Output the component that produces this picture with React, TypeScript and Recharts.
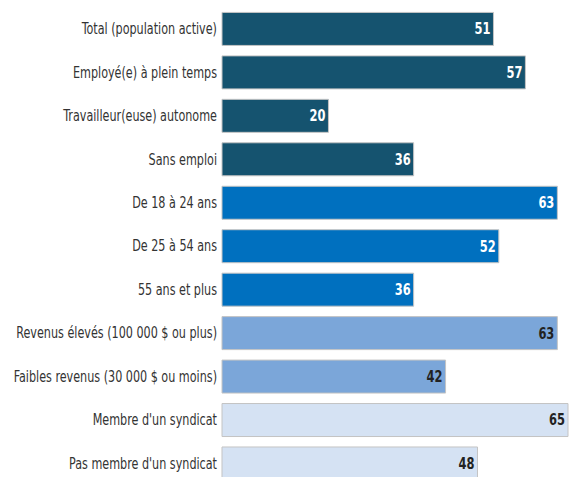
import React from "react";
import { BarChart, Bar, XAxis, YAxis, Cell, LabelList } from "recharts";

const categories = [
  "Total (population active)",
  "Employé(e) à plein temps",
  "Travailleur(euse) autonome",
  "Sans emploi",
  "De 18 à 24 ans",
  "De 25 à 54 ans",
  "55 ans et plus",
  "Revenus élevés (100 000 $ ou plus)",
  "Faibles revenus (30 000 $ ou moins)",
  "Membre d'un syndicat",
  "Pas membre d'un syndicat",
];
const values = [51, 57, 20, 36, 63, 52, 36, 63, 42, 65, 48];
const groups = [0, 0, 0, 0, 1, 1, 1, 2, 2, 3, 3];

const groupColors = ["#15536f", "#0070bf", "#7ba6d9", "#d5e2f3"];
const labelColors = ["#ffffff", "#ffffff", "#222222", "#222222"];

const data = categories.map((name, i) => ({ name, value: values[i], group: groups[i] }));

const FONT = "'DejaVu Sans Condensed', 'DejaVu Sans', sans-serif";

const renderLabel = (props: any) => {
  const { x, y, width, height, value, index } = props;
  const g = groups[index];
  return (
    <g transform={`translate(${x + width - 3},${y + height / 2}) scale(0.85,1)`}>
      <text
        x={0}
        y={0}
        textAnchor="end"
        dominantBaseline="central"
        fill={labelColors[g]}
        fontSize={15}
        fontWeight="bold"
        fontFamily={FONT}
      >
        {value}
      </text>
    </g>
  );
};

const CategoryTick = (props: any) => {
  const { x, y, payload } = props;
  return (
    <g transform={`translate(${x},${y}) scale(0.83,1)`}>
      <text
        x={0}
        y={0}
        textAnchor="end"
        dominantBaseline="central"
        fill="#333333"
        fontSize={15}
        fontFamily={FONT}
      >
        {payload.value}
      </text>
    </g>
  );
};

export default function App() {
  return (
    <div style={{ position: "absolute", left: 0, top: 0, width: 570, height: 477, overflow: "hidden", background: "#fff" }}>
      <BarChart
        width={570}
        height={485}
        data={data}
        layout="vertical"
        margin={{ top: 7, right: 2, bottom: 0, left: 0 }}
        barCategoryGap="12.5%"
      >
        <XAxis type="number" domain={[0, 65]} hide />
        <YAxis
          type="category"
          dataKey="name"
          width={222}
          axisLine={false}
          tickLine={false}
          tickSize={3}
          interval={0}
          tick={<CategoryTick />}
        />
        <Bar dataKey="value" isAnimationActive={false} stroke="#c4c4c4" strokeWidth={1}>
          {data.map((d, i) => (
            <Cell key={i} fill={groupColors[d.group]} />
          ))}
          <LabelList dataKey="value" content={renderLabel} />
        </Bar>
      </BarChart>
    </div>
  );
}
